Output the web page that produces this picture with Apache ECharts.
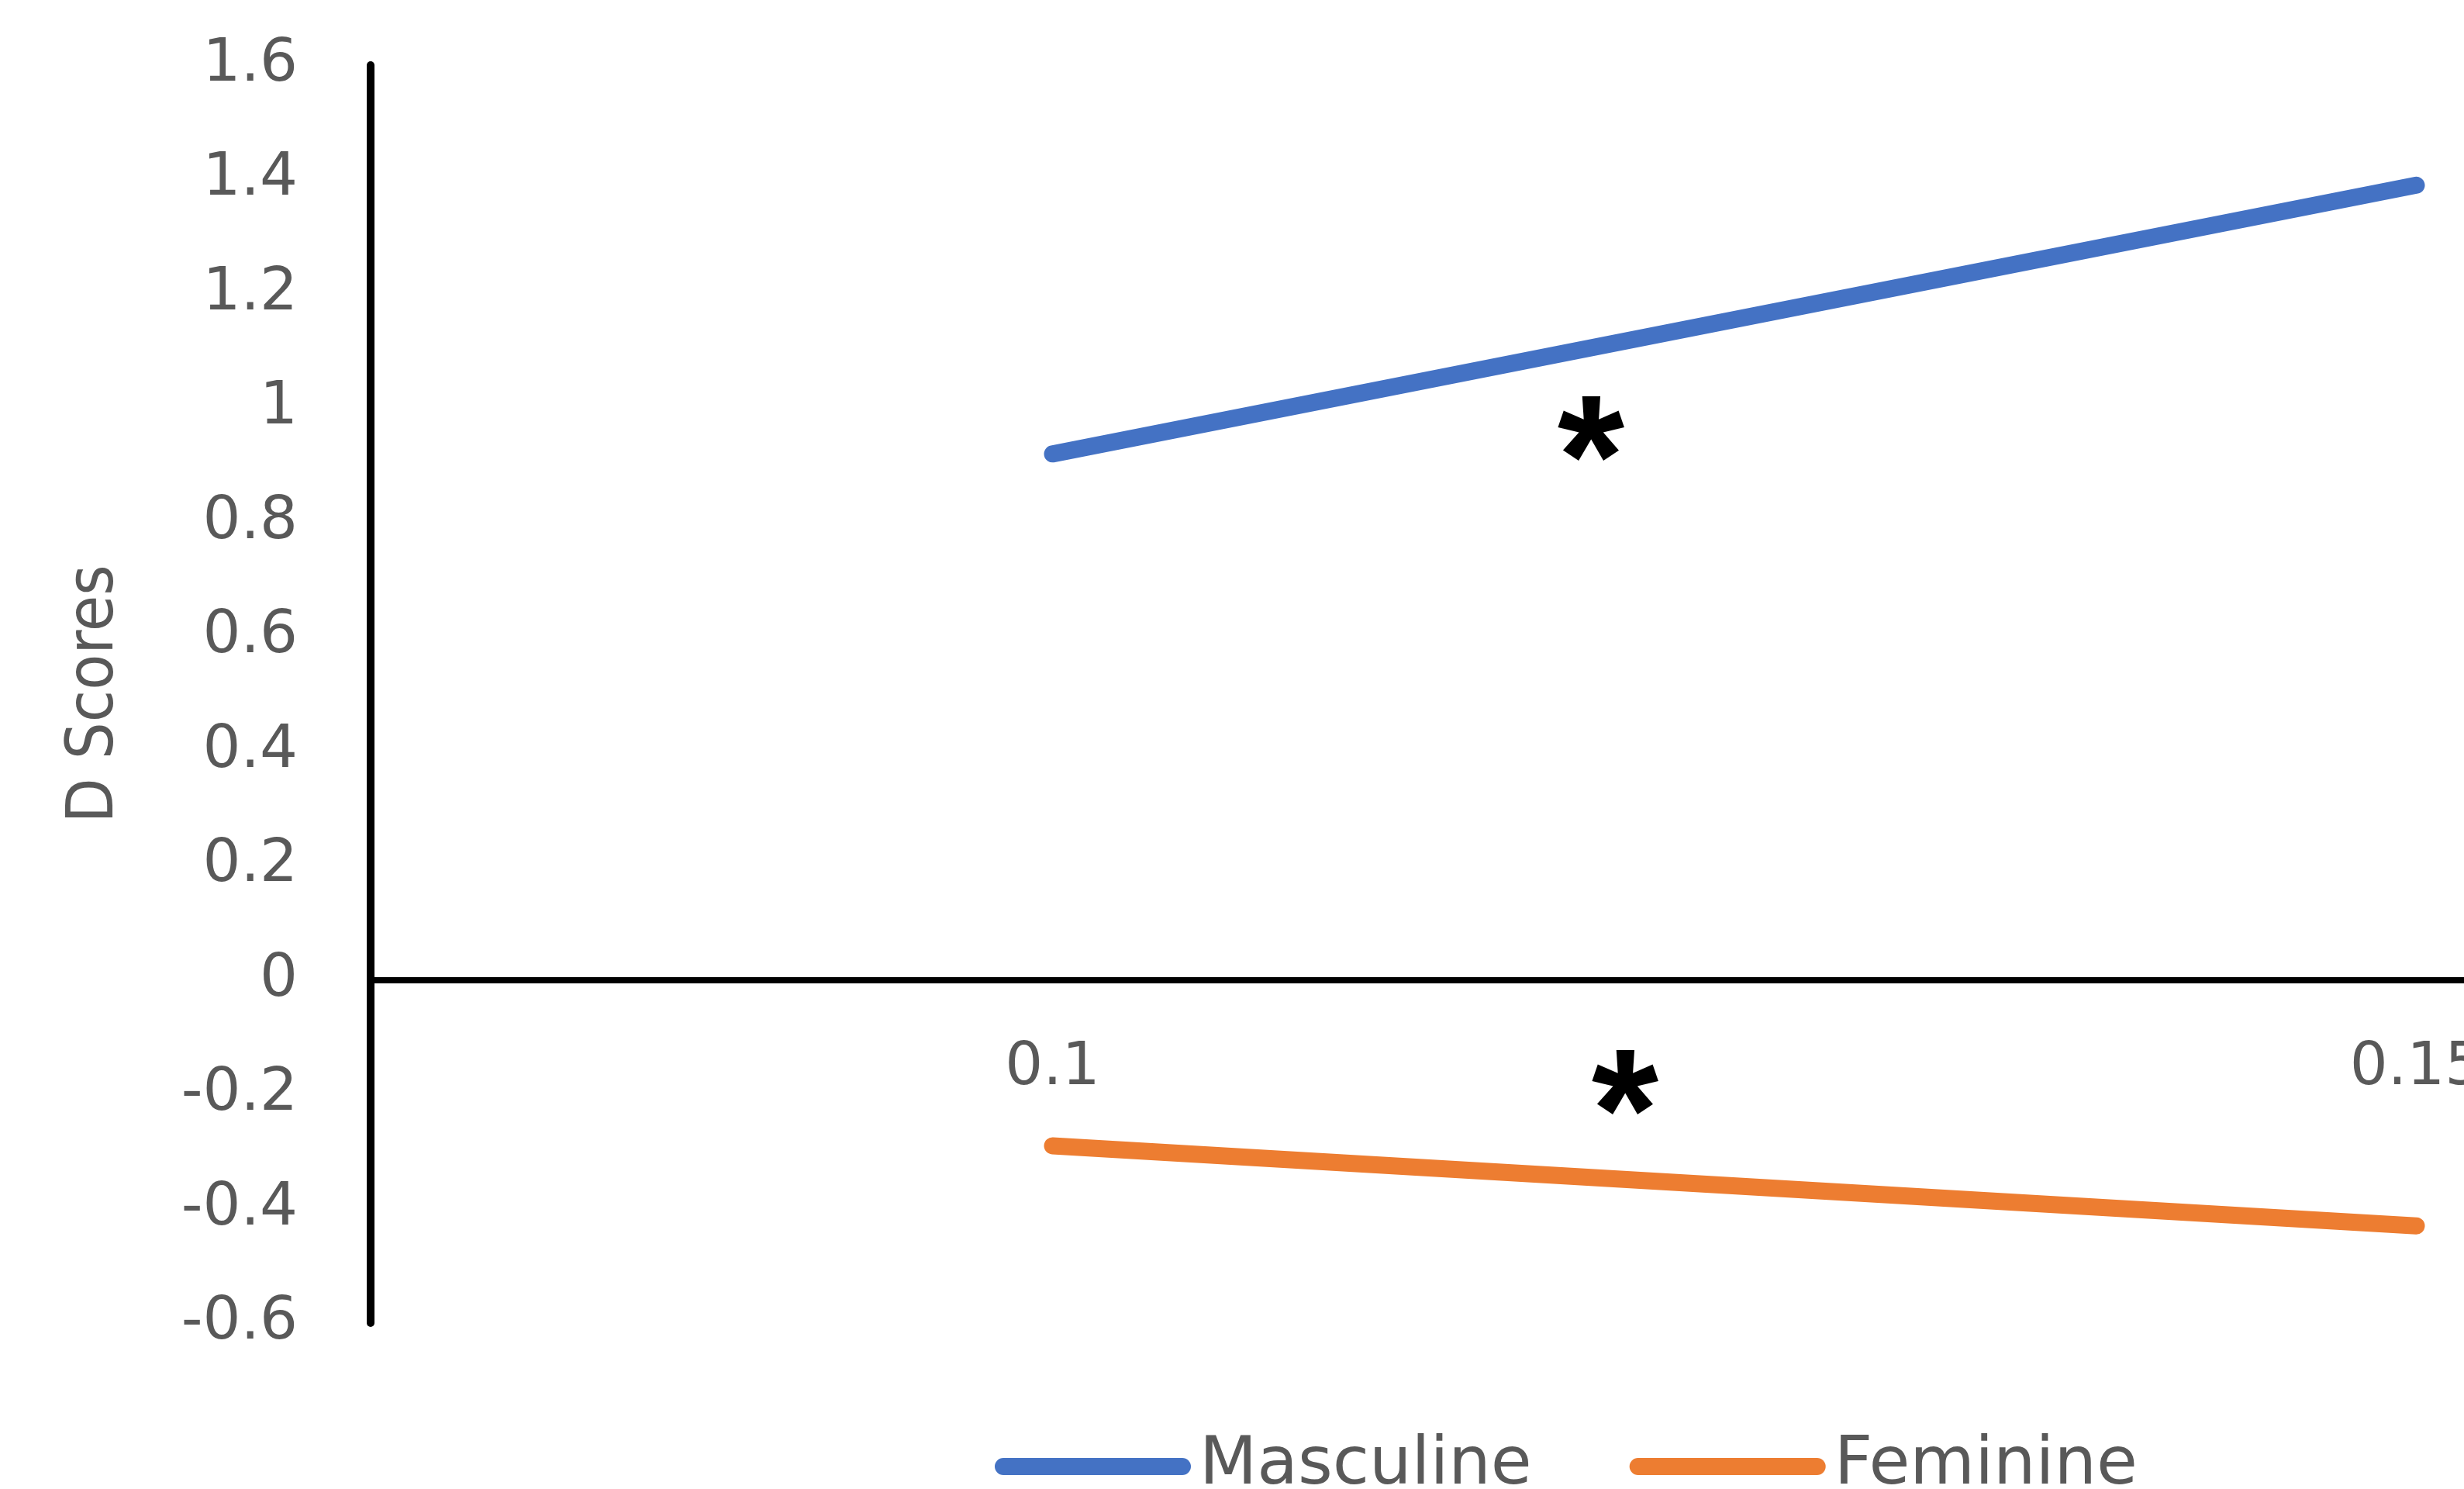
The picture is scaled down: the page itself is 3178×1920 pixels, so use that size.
<!DOCTYPE html>
<html>
<head>
<meta charset="utf-8">
<title>D Scores</title>
<script src="https://cdn.jsdelivr.net/npm/echarts@6/dist/echarts.min.js"></script>
<style>
  html, body { margin: 0; padding: 0; background: #ffffff; overflow: hidden; }
  #chart { width: 4100px; height: 1920px; }
</style>
</head>
<body>
<div id="chart"></div>
<script>
// Category values along the x axis
const categories = ['0.1', '0.15'];

// D score for each group at each category
const masculine = [0.92, 1.39];
const feminine = [-0.29, -0.43];

const seriesNames = ['Masculine', 'Feminine'];
const seriesColors = ['#4472C4', '#ED7D31'];

// Y axis range and step
const yMin = -0.6;
const yMax = 1.6;
const yStep = 0.2;

const yAxisTitle = 'D Scores';
const significanceMark = '*';

const textGray = '#595959';
const labelFont = 'DejaVu Sans';

const gridTop = 84;
const gridHeight = 1622;

const chart = echarts.init(document.getElementById('chart'), null, { renderer: 'canvas' });

const pillIcon = 'path://M11,0 L242,0 A11,11 0 0 1 242,22 L11,22 A11,11 0 0 1 11,0 Z';
const starFont = 'bold 222px "Liberation Sans", Arial, sans-serif';

const option = {
  backgroundColor: '#ffffff',
  animation: false,
  grid: {
    left: 478,
    top: gridTop,
    width: 3518,
    height: gridHeight,
    containLabel: false
  },
  legend: {
    left: 1278,
    top: 1843,
    itemWidth: 253,
    itemHeight: 22,
    itemGap: 126,
    icon: pillIcon,
    textStyle: {
      color: textGray,
      fontFamily: labelFont,
      fontSize: 86,
      padding: [0, 0, 0, 6]
    },
    data: seriesNames
  },
  xAxis: {
    type: 'category',
    data: categories,
    boundaryGap: true,
    axisLine: {
      onZero: false,
      lineStyle: { color: '#000000', width: 8 }
    },
    axisTick: { show: false },
    axisLabel: {
      color: textGray,
      fontFamily: labelFont,
      fontSize: 77,
      margin: 76
    },
    splitLine: { show: false }
  },
  yAxis: {
    type: 'value',
    min: yMin,
    max: yMax,
    interval: yStep,
    name: yAxisTitle,
    nameLocation: 'middle',
    nameRotate: 90,
    nameGap: 313,
    nameTextStyle: {
      color: textGray,
      fontFamily: 'Liberation Sans Narrow, DejaVu Sans Condensed, sans-serif',
      fontSize: 84
    },
    axisLine: {
      show: true,
      lineStyle: { color: '#000000', width: 10 }
    },
    axisTick: { show: false },
    splitLine: { show: false },
    axisLabel: {
      color: textGray,
      fontFamily: labelFont,
      fontSize: 77,
      margin: 94
    }
  },
  series: [
    {
      name: seriesNames[0],
      type: 'line',
      data: masculine,
      showSymbol: false,
      symbol: 'none',
      color: seriesColors[0],
      lineStyle: { color: seriesColors[0], width: 22, cap: 'round', join: 'round' }
    },
    {
      name: seriesNames[1],
      type: 'line',
      data: feminine,
      showSymbol: false,
      symbol: 'none',
      color: seriesColors[1],
      lineStyle: { color: seriesColors[1], width: 22, cap: 'round', join: 'round' }
    }
  ],
  graphic: [
    {
      type: 'text',
      x: 2052,
      y: 603,
      style: {
        text: significanceMark,
        fill: '#000000',
        font: starFont,
        textAlign: 'center',
        textVerticalAlign: 'middle'
      }
    },
    {
      type: 'text',
      x: 2096,
      y: 1446,
      style: {
        text: significanceMark,
        fill: '#000000',
        font: starFont,
        textAlign: 'center',
        textVerticalAlign: 'middle'
      }
    }
  ]
};

chart.setOption(option);

// Move the category axis (line and labels) up to the y = 0 level
const zeroY = chart.convertToPixel({ yAxisIndex: 0 }, 0);
const gridBottom = gridTop + gridHeight;
chart.setOption({ xAxis: { offset: zeroY - gridBottom } });
</script>
</body>
</html>
